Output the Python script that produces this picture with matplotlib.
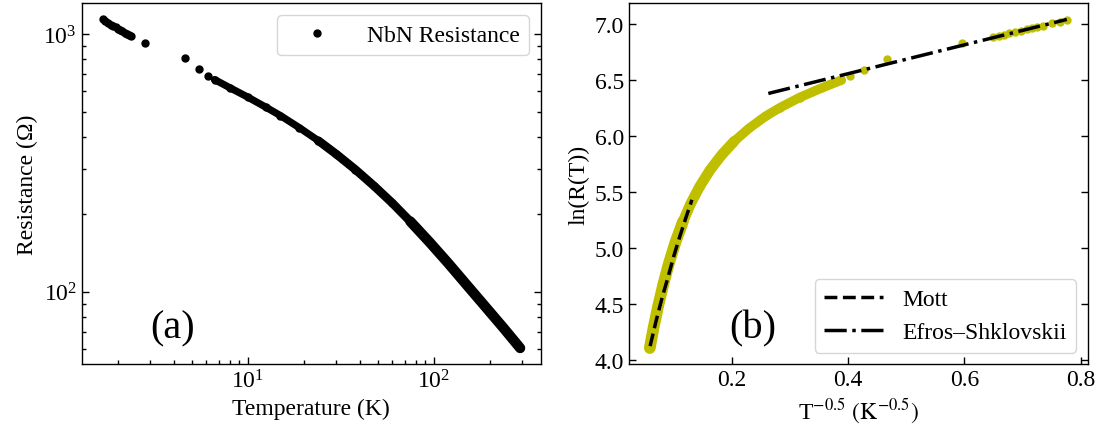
import numpy as np
import matplotlib.pyplot as plt

plt.rcParams['font.family'] = 'serif'
plt.rcParams['font.serif'] = ['Liberation Serif', 'DejaVu Serif']
plt.rcParams['mathtext.fontset'] = 'stix'
plt.rcParams['font.size'] = 17

# lowest temperatures, closely spaced readings
cold_T = [1.66, 1.71, 1.77, 1.85, 1.90, 1.95, 2.00, 2.06, 2.12, 2.18, 2.24, 2.30, 2.37]
cold_R = [1140, 1124, 1107, 1085, 1073, 1061, 1050, 1037, 1025, 1012, 1002, 990, 981]

# a few isolated readings while warming up
gap_T = [2.81, 4.6, 5.5, 6.16]
gap_R = [927, 805, 730, 690]

# continuous sweep up to room temperature
warm_T = [6.64, 8.0, 10.0, 12.5, 15.0, 19.0, 24.0, 30.0, 38.0, 48.0,
          60.0, 75.0, 95.0, 120.0, 150.0, 190.0, 240.0, 292.0]
warm_R = [666, 620, 570, 521, 483, 433, 386, 342, 298, 257,
          221, 187.5, 156, 129, 106.8, 87.5, 71.8, 60.5]

# hopping fits in the T^-0.5 representation
mott_x = [0.059, 0.070, 0.080, 0.090, 0.100, 0.110, 0.120, 0.131]
mott_y = [4.12, 4.36, 4.56, 4.74, 4.93, 5.10, 5.26, 5.43]
es_x = [0.2625, 0.7763]
es_y = [6.382, 7.045]

T_all = np.array(cold_T + gap_T + warm_T)
R_all = np.array(cold_R + gap_R + warm_R)
warm_T = np.array(warm_T)
warm_R = np.array(warm_R)

fig = plt.figure(figsize=(11.05, 4.35), dpi=100)
ax1 = fig.add_axes([0.0739, 0.1598, 0.4157, 0.8310])
ax2 = fig.add_axes([0.5692, 0.1598, 0.4151, 0.8310])

# the sweep gets noisier when warm, so the band widens
bands = [(0, 5.2, 6.8), (24, 6.2, 7.6), (75, 7.4, 8.4)]

# (a) resistance vs temperature
for tmin, lw1, lw2 in bands:
    m = warm_T >= tmin
    ax1.plot(warm_T[m], warm_R[m], color='black', lw=lw1, solid_capstyle='round')
ax1.plot(T_all, R_all, 'o', color='black', ms=5, label='NbN Resistance')
ax1.set_xscale('log')
ax1.set_yscale('log')
ax1.set_xlabel('Temperature (K)')
ax1.set_ylabel('Resistance (Ω)')
ax1.legend(loc='upper right', handlelength=2.6)
ax1.text(0.198, 0.10, '(a)', transform=ax1.transAxes, fontsize=29,
         ha='center', va='center')

# (b) ln R vs T^-1/2
x_all = T_all ** -0.5
y_all = np.log(R_all)
for tmin, lw1, lw2 in bands:
    m = warm_T >= tmin
    ax2.plot(warm_T[m] ** -0.5, np.log(warm_R[m]), color='y', lw=lw2,
             solid_capstyle='round')
ax2.plot(x_all, y_all, 'o', color='y', ms=5)
ax2.plot(mott_x, mott_y, '--', color='black', lw=2.5, label='Mott')
ax2.plot(es_x, es_y, '-.', color='black', lw=2.5, label='Efros–Shklovskii')
ax2.set_xticks([0.2, 0.4, 0.6, 0.8])
ax2.set_yticks(np.arange(4.0, 7.01, 0.5))
ax2.set_xlabel(r'T$^{-0.5}$ $\left(\mathrm{K}^{-0.5}\right)$')
ax2.set_ylabel('ln(R(T))')
ax2.legend(loc='lower right', handlelength=2.5)
ax2.text(0.269, 0.10, '(b)', transform=ax2.transAxes, fontsize=29,
         ha='center', va='center')

for ax in (ax1, ax2):
    ax.tick_params(which='both', direction='in', right=True, top=False, width=1)
    ax.tick_params(which='major', length=5)
    ax.tick_params(which='minor', length=3)
    for s in ax.spines.values():
        s.set_linewidth(1.0)

fig.savefig('out.png', dpi=100)
